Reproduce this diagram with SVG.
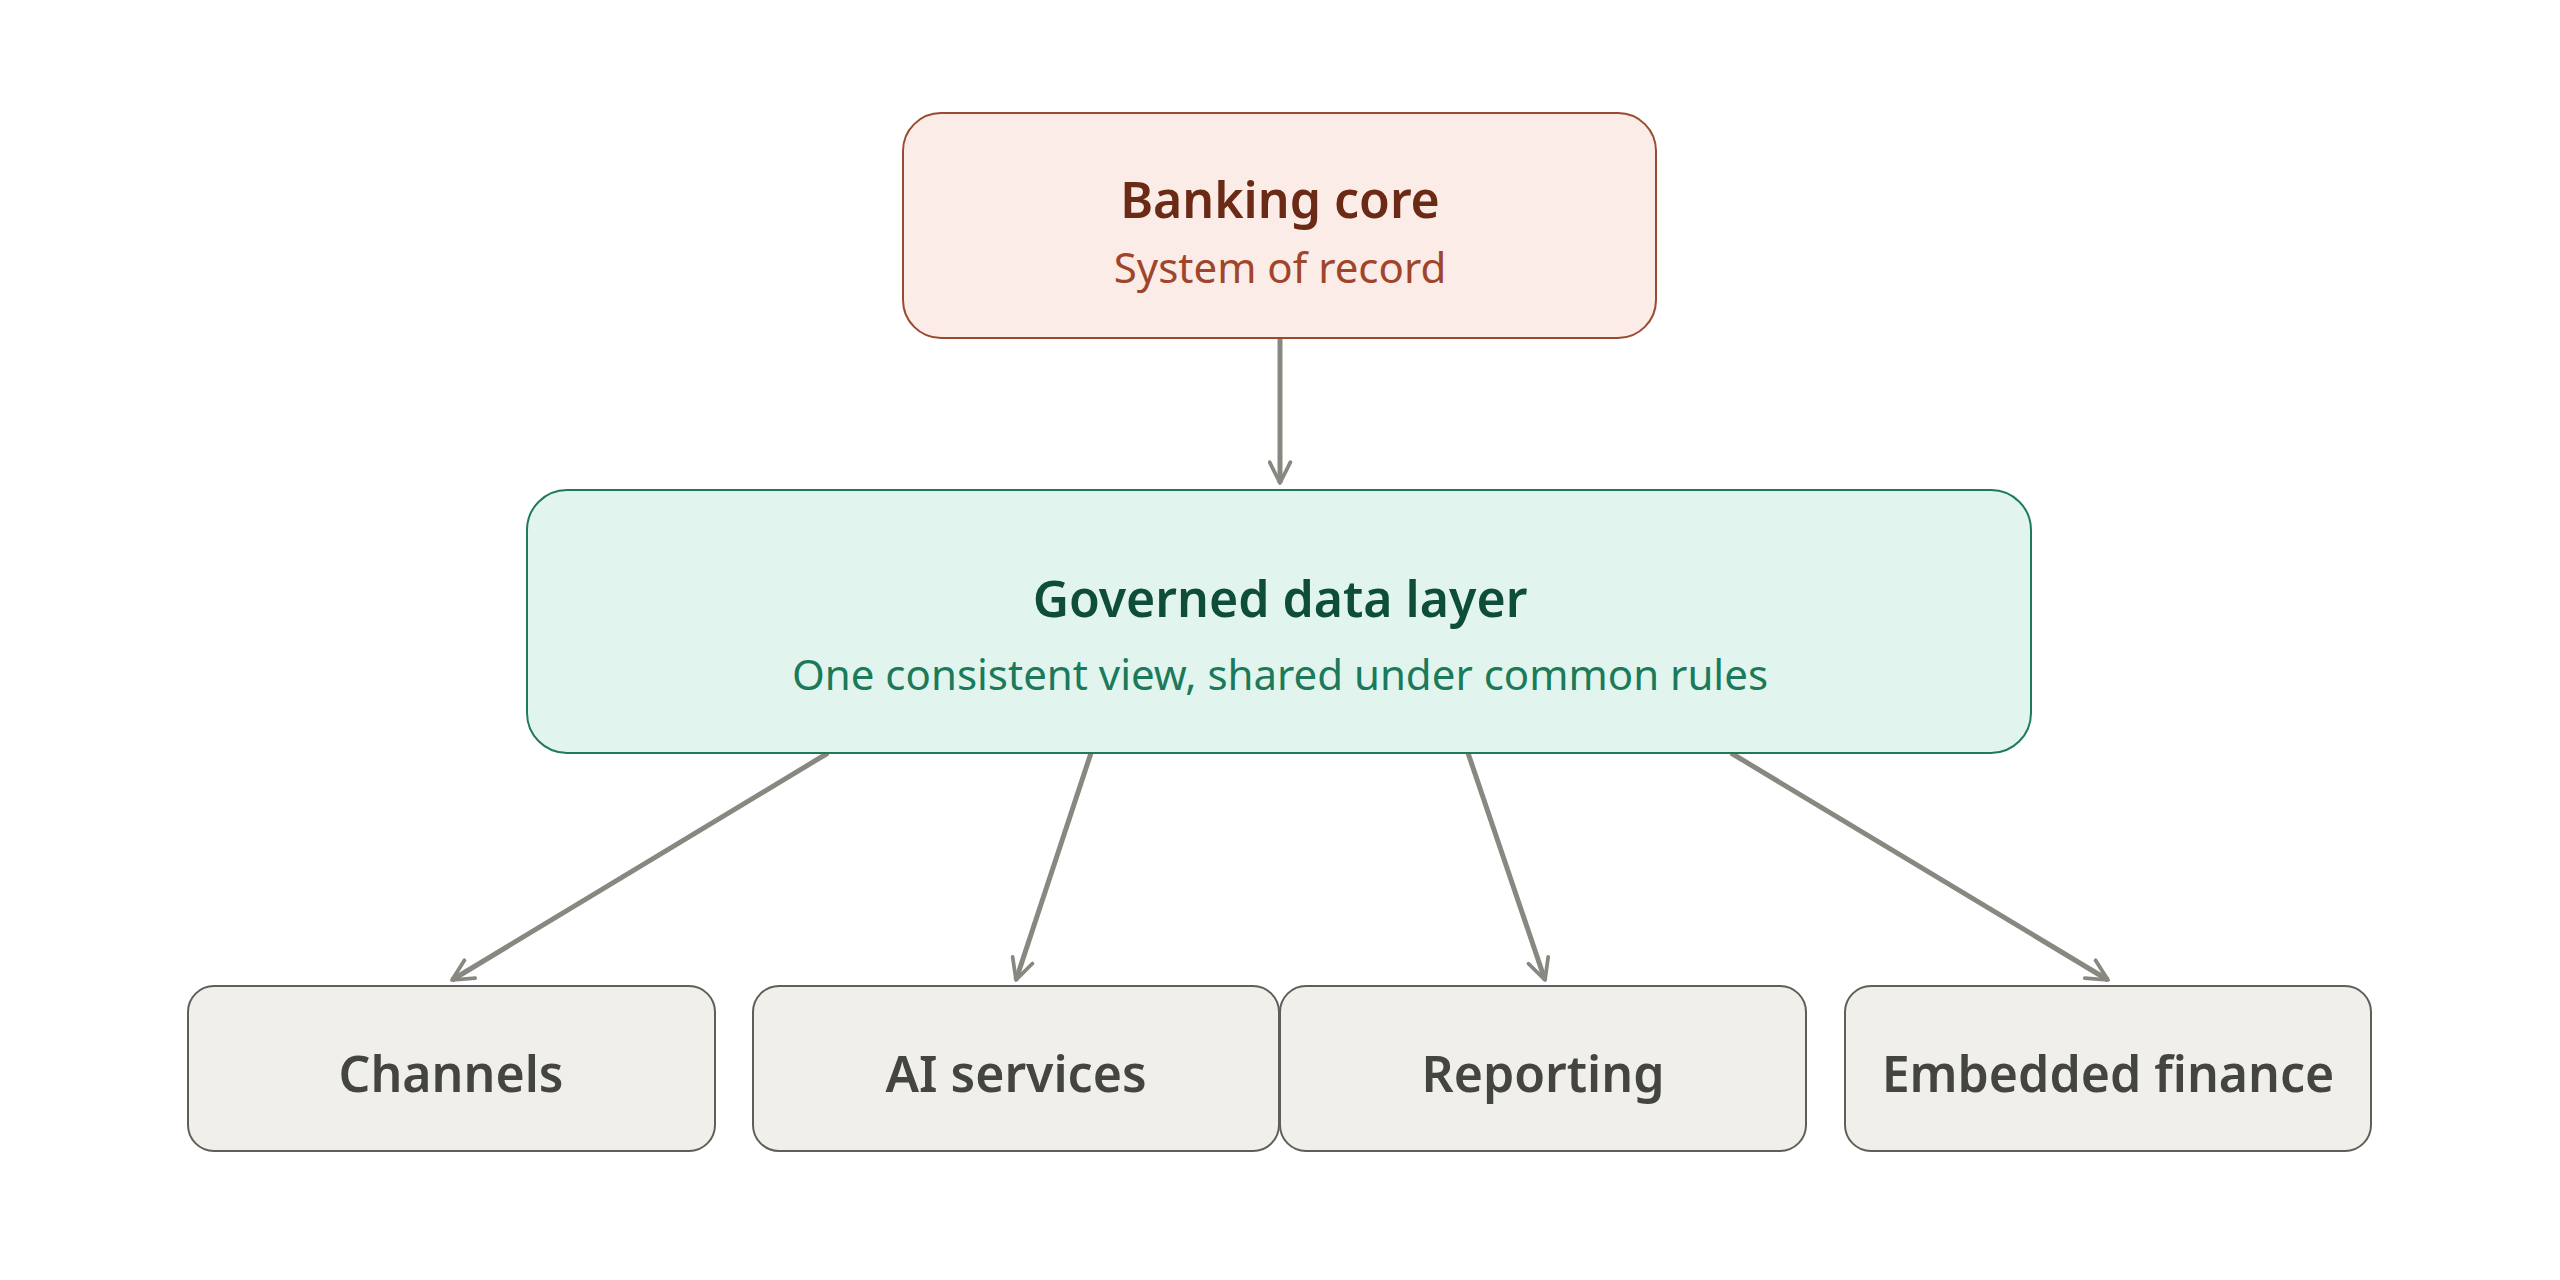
<svg xmlns="http://www.w3.org/2000/svg" width="2560" height="1280" viewBox="0 0 2560 1280">
<style>
text{font-family:"Noto Sans","Open Sans","Liberation Sans",sans-serif;text-anchor:middle;dominant-baseline:central}
.t{font-weight:600;font-size:50px}
.s{font-size:42px}
.g rect{fill:#f1efea;stroke:#5f5e5a;stroke-width:2}
.g text{fill:#444441;font-weight:600;font-size:50px}
.c line{stroke:#888780;stroke-width:5;fill:none;marker-end:url(#a)}
</style>
<defs>
<marker id="a" viewBox="0 0 12 12" refX="11" refY="6" markerWidth="5" markerHeight="5" orient="auto" markerUnits="strokeWidth">
<path d="M1 1 L11 6 L1 11" fill="none" stroke="#888780" stroke-width="1.8" stroke-linecap="round" stroke-linejoin="round"/>
</marker>
</defs>
<rect width="2560" height="1280" fill="#fff"/>
<g class="c">
<line x1="1280" y1="338" x2="1280" y2="483"/>
<line x1="828" y1="753" x2="452" y2="980"/>
<line x1="1091" y1="753" x2="1016" y2="980"/>
<line x1="1468" y1="753" x2="1545" y2="980"/>
<line x1="1731" y1="753" x2="2108" y2="980"/>
</g>
<g id="core">
<rect x="903" y="113" width="753" height="225" rx="38" fill="#fbece7" stroke="#9a4a30" stroke-width="2"/>
<text class="t" x="1280" y="199" fill="#6b2a15">Banking core</text>
<text class="s" x="1280" y="266" fill="#a0452a">System of record</text>
</g>
<g id="data">
<rect x="527" y="490" width="1504" height="263" rx="40" fill="#e1f5ee" stroke="#1f7a5a" stroke-width="2"/>
<text class="t" x="1280" y="598" fill="#0d4d3a">Governed data layer</text>
<text class="s" x="1280" y="673" fill="#1a7a5a">One consistent view, shared under common rules</text>
</g>
<g id="channels" class="g"><rect x="188" y="986" width="527" height="165" rx="26"/><text x="451" y="1073">Channels</text></g>
<g id="ai" class="g"><rect x="753" y="986" width="526" height="165" rx="26"/><text x="1016" y="1073">AI services</text></g>
<g id="reporting" class="g"><rect x="1280" y="986" width="526" height="165" rx="26"/><text x="1543" y="1073">Reporting</text></g>
<g id="embedded" class="g"><rect x="1845" y="986" width="526" height="165" rx="26"/><text x="2108" y="1073">Embedded finance</text></g>
</svg>
